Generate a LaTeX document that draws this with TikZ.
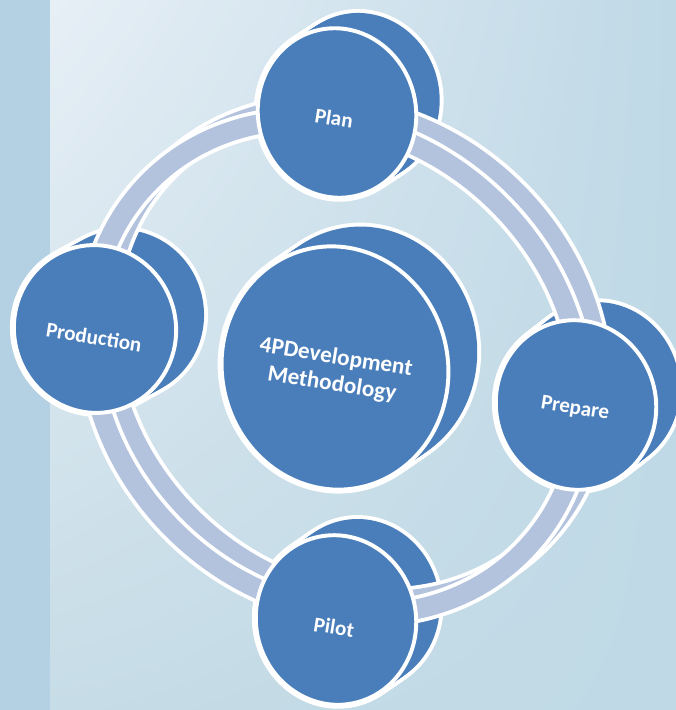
\documentclass[tikz,border=0pt]{standalone}
\usepackage{fontspec}
\setmainfont{Carlito}
\usepackage{tikz}
\usetikzlibrary{positioning,calc,shadings}

\definecolor{faceblue}{HTML}{4A7EBB}
\definecolor{bandblue}{HTML}{B3C3DE}
\definecolor{stripblue}{HTML}{B3D1E2}
\definecolor{paleblue}{HTML}{E7EFF6}
\definecolor{skyblue}{HTML}{BFD9E6}
\definecolor{mistblue}{HTML}{C6DCE6}

\tikzset{
  lbl/.style={text=white, font=\bfseries\fontsize{15}{17}\selectfont, rotate=-9, align=center},
  bigLbl/.style={lbl, font=\bfseries\fontsize{16.5}{19}\selectfont},
  rimEdge/.style={draw=white, line width=19.5pt},
  rimBand/.style={draw=bandblue, line width=14pt},
}

\begin{document}
\begin{tikzpicture}[x=0.025cm, y=-0.025cm]
    \useasboundingbox (0,0) rectangle (676,710);

    % Backdrop
    \shade[upper left=paleblue, upper right=skyblue, lower left=mistblue, lower right=skyblue] (50,0) rectangle (676,710);
    \fill[stripblue] (0,0) rectangle (50,710);

    \coordinate (hub) at (336,367);

    % Cylinder bodies
    \foreach \cx/\cy/\rx/\ry/\dx/\dy in {337/113/79/85/26/-17, 335/368/113/122/32/-22, 576/405/80/85/26/-20, 95/329/81/84/31/-17, 336/620/80/85/26/-18}{
        \foreach \t in {0,0.1,...,1}
            \draw[white, line width=5.6pt, shift={(\cx+\t*\dx,\cy+\t*\dy)}, rotate=12] (0,0) ellipse [x radius=\rx, y radius=\ry];
        \foreach \t in {0,0.1,...,1}
            \fill[faceblue, shift={(\cx+\t*\dx,\cy+\t*\dy)}, rotate=12] (0,0) ellipse [x radius=\rx, y radius=\ry];
    }

    % Ring (back, then front)
    \foreach \dx/\dy in {17/-13, 0/0}{
        \draw[rimEdge, shift={($(hub)+(\dx,\dy)$)}, rotate=-45] (0,0) ellipse [x radius=263, y radius=230];
        \draw[rimBand, shift={($(hub)+(\dx,\dy)$)}, rotate=-45] (0,0) ellipse [x radius=263, y radius=230];
    }

    % Front faces
    \foreach \cx/\cy/\rx/\ry in {337/113/79/85, 335/368/113/122, 576/405/80/85, 95/329/81/84, 336/620/80/85}
        \draw[white, fill=faceblue, line width=2.8pt, shift={(\cx,\cy)}, rotate=12] (0,0) ellipse [x radius=\rx, y radius=\ry];

    % Labels
    \node[lbl] (plan) at (334,118) {Plan};
    \node[bigLbl] (core) at (334,371) {4PDevelopment\\Methodology};
    \node[lbl] (prepare) at (575,409) {Prepare};
    \node[lbl] (production) at (94,337) {Production};
    \node[lbl] (pilot) at (334,627) {Pilot};
\end{tikzpicture}
\end{document}
